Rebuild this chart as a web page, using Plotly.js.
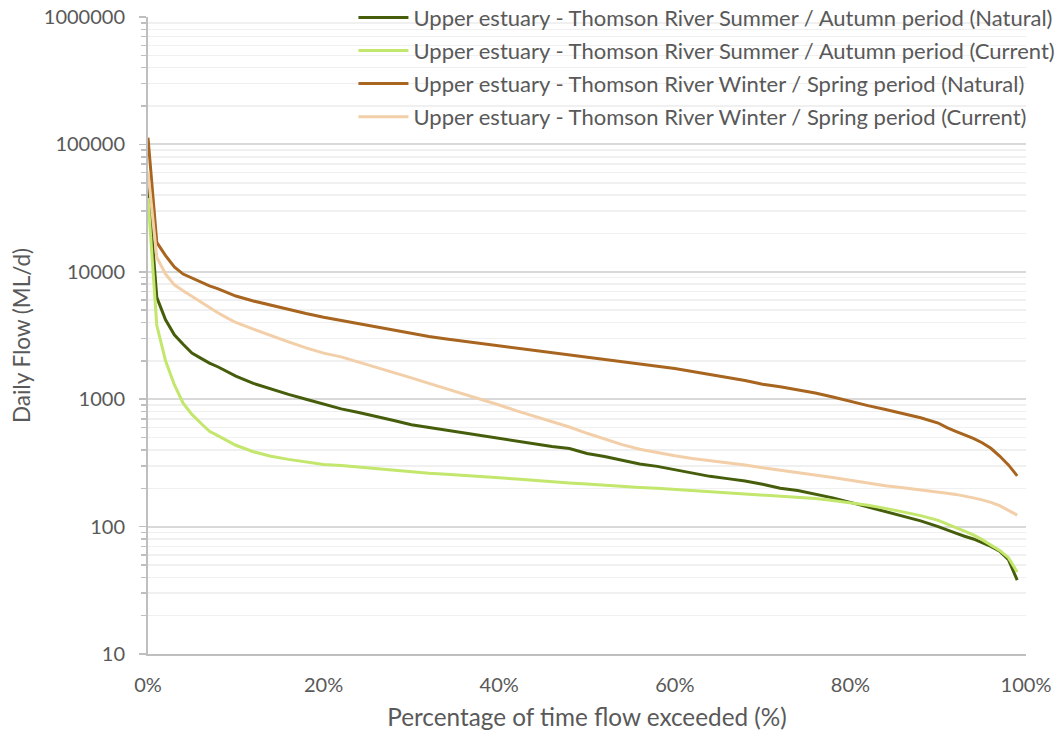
<!DOCTYPE html>
<html>
<head>
<meta charset="utf-8">
<script src="https://cdn.plot.ly/plotly-3.0.1.min.js"></script>
<style>
  html, body { margin: 0; padding: 0; background: #ffffff; }
  #chart { width: 1059px; height: 737px; }
</style>
</head>
<body>
<div id="chart"></div>
<script>
// Flow duration curves, Upper estuary - Thomson River (daily flow, ML/d)
const exceedancePct = [0,1,2,3,4,5,6,7,8,9,10,12,14,16,18,20,22,24,26,28,30,32,34,36,38,40,42,44,46,48,50,52,54,56,58,60,62,64,66,68,70,72,74,76,78,80,82,84,86,88,90,91,92,93,94,95,96,97,98,99];

const summerNatural = [48000,6300,4200,3200,2700,2300,2100,1920,1790,1650,1520,
  1330,1200,1090,1000,920,840,785,735,680,630,600,570,545,520,495,470,445,425,410,375,355,330,310,297,280,263,248,238,228,215,200,192,180,168,155,143,132,121,111,100,
  95,89,84,80,75,70,64,55,38];

const summerCurrent = [38000,3800,2000,1300,930,760,650,560,515,470,435,
  387,357,337,320,307,302,293,284,276,268,262,257,253,247,242,236,230,225,220,216,211,207,203,200,196,192,188,185,181,177,174,170,166,160,154,147,139,131,122,112,
  104,98,92,86,79,72,65,57,44];

const winterNatural = [113000,17000,13400,10900,9600,8900,8300,7750,7350,6900,6450,
  5900,5450,5050,4700,4400,4150,3900,3650,3450,3250,3100,2970,2850,2760,2640,2530,2420,2320,2240,2150,2070,1990,1910,1830,1740,1650,1570,1480,1400,1310,1250,1190,1120,1040,960,890,830,770,715,650,
  598,560,528,492,455,412,358,305,250];

const winterCurrent = [61000,13000,9600,7900,7100,6400,5800,5200,4750,4350,4000,
  3550,3150,2820,2530,2300,2150,1960,1780,1630,1470,1330,1210,1100,990,900,810,735,665,605,540,485,440,405,380,360,343,330,318,305,290,278,267,256,243,231,219,209,202,195,187,
  183,179,174,168,162,155,146,135,123];

const seriesNames = [
  'Upper estuary - Thomson River Summer / Autumn period (Natural)',
  'Upper estuary - Thomson River Summer / Autumn period (Current)',
  'Upper estuary - Thomson River Winter / Spring period (Natural)',
  'Upper estuary - Thomson River Winter / Spring period (Current)'
];
const xTickVals = [0, 20, 40, 60, 80, 100];
const xTickText = ['0%', '20%', '40%', '60%', '80%', '100%'];
const yTickVals = [10, 100, 1000, 10000, 100000, 1000000];
const yTickText = ['10', '100', '1000', '10000', '100000', '1000000'];

const seriesValues = [summerNatural, summerCurrent, winterNatural, winterCurrent];
const seriesColors = ['#465e0c', '#c3e66c', '#a8651f', '#f2cfa8'];

// one legend group per series so the group gap spaces the legend rows
const traces = seriesValues.map((vals, i) => ({
  type: 'scatter',
  mode: 'lines',
  name: seriesNames[i],
  legendgroup: 'g' + i,
  x: exceedancePct,
  y: vals,
  line: { color: seriesColors[i], width: 3 },
  hoverinfo: 'x+y+name'
}));

const textGrey = '#595959';
const fontFamily = 'Lato, "Open Sans", sans-serif';

const layout = {
  width: 1059,
  height: 737,
  paper_bgcolor: '#ffffff',
  plot_bgcolor: '#ffffff',
  margin: { l: 148, r: 33, t: 17, b: 83, pad: 0, autoexpand: false },
  font: { family: fontFamily, size: 20, color: textGrey },
  showlegend: true,
  legend: {
    x: 0.234, xanchor: 'left',
    y: 1.032, yanchor: 'top',
    bgcolor: 'rgba(0,0,0,0)',
    font: { family: fontFamily, size: 22, color: textGrey },
    itemwidth: 50,
    tracegroupgap: 1.5
  },
  xaxis: {
    range: [0, 100],
    tickvals: xTickVals,
    ticktext: xTickText,
    showgrid: false,
    zeroline: false,
    showline: true,
    linecolor: '#bfbfbf',
    linewidth: 2,
    ticks: '',
    ticklabelstandoff: 12,
    tickfont: { family: fontFamily, size: 20, color: textGrey },
    title: {
      text: 'Percentage of time flow exceeded (%)',
      font: { family: fontFamily, size: 24.3, color: textGrey },
      standoff: 14
    }
  },
  yaxis: {
    type: 'log',
    range: [1, 6],
    tickvals: yTickVals,
    ticktext: yTickText,
    showgrid: true,
    gridcolor: '#d9d9d9',
    gridwidth: 2,
    zeroline: false,
    showline: true,
    linecolor: '#bfbfbf',
    linewidth: 2,
    ticks: 'outside',
    ticklen: 7,
    tickwidth: 1.5,
    tickcolor: '#bfbfbf',
    ticklabelstandoff: 10,
    tickfont: { family: fontFamily, size: 20, color: textGrey },
    minor: {
      dtick: 'D1',
      showgrid: true,
      gridcolor: '#f0f0f0',
      gridwidth: 1.5,
      ticks: 'outside',
      ticklen: 5,
      tickwidth: 1.5,
      tickcolor: '#bfbfbf'
    },
    title: {
      text: 'Daily Flow (ML/d)',
      font: { family: fontFamily, size: 22.5, color: textGrey },
      standoff: 7
    }
  }
};

Plotly.newPlot('chart', traces, layout, { displayModeBar: false, staticPlot: true });
</script>
</body>
</html>
